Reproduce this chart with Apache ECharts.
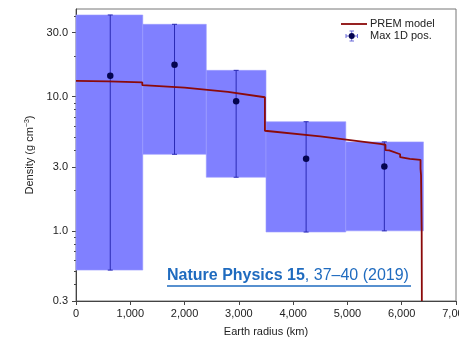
<!DOCTYPE html>
<html>
<head>
<meta charset="utf-8">
<script src="https://cdn.jsdelivr.net/npm/echarts@6/dist/echarts.min.js"></script>
<style>
html,body{margin:0;padding:0;background:#fff;}
#chart{width:459px;height:339px;}
</style>
</head>
<body>
<div id="chart"></div>
<script>
// ---- data ----
const boxRadiusStart = [0, 1230, 2400, 3500, 4970];
const boxRadiusEnd   = [1230, 2400, 3500, 4970, 6400];
const boxDensityLow  = [0.51, 3.72, 2.51, 0.98, 1.0];
const boxDensityHigh = [40.6, 34.6, 15.7, 6.5, 4.6];
const pointRadius  = [631, 1815, 2950, 4239, 5680];
const pointDensity = [14.3, 17.3, 9.24, 3.44, 3.01];
const premRadius  = [0, 600, 1221.5, 1221.5, 2000, 2800, 3480, 3480, 4500, 5600, 5701, 5701, 5771, 5971, 5971, 6151, 6151, 6346.6, 6346.6, 6356, 6356, 6368, 6368, 6371, 6371];
const premDensity = [13.09, 13.01, 12.76, 12.17, 11.66, 10.85, 9.90, 5.57, 5.05, 4.44, 4.38, 3.99, 3.98, 3.72, 3.54, 3.44, 3.36, 3.38, 2.90, 2.90, 2.60, 2.60, 1.02, 1.02, 0.3];
const yTickValues  = [0.3, 1, 3, 10, 30];
const yMinorValues = [0.4, 0.5, 0.6, 0.7, 0.8, 0.9, 2, 4, 5, 6, 7, 8, 9, 20, 40];
const xMin = 0, xMax = 7000, xInterval = 1000;
const yMin = 0.3, yMax = 45;

const FONT = '"Liberation Sans", Arial, sans-serif';
const boxData = boxRadiusStart.map((s, i) => [s, boxRadiusEnd[i], boxDensityLow[i], boxDensityHigh[i]]);
const errData = pointRadius.map((r, i) => [r, boxDensityLow[i], boxDensityHigh[i]]);
const pointData = pointRadius.map((r, i) => [r, pointDensity[i]]);
const premData = premRadius.map((r, i) => [r, premDensity[i]]);

const chart = echarts.init(document.getElementById('chart'), null, {renderer: 'canvas'});
const lg = v => Math.log10(v);

chart.setOption({
  backgroundColor: '#ffffff',
  animation: false,
  grid: {left: 76, right: 3, top: 9, bottom: 38, show: true, borderColor: '#777', borderWidth: 1,
         backgroundColor: 'transparent', containLabel: false, outerBoundsMode: 'none'},
  xAxis: {
    type: 'value', min: xMin, max: xMax, interval: xInterval,
    name: 'Earth radius (km)', nameLocation: 'middle', nameGap: 25,
    nameTextStyle: {fontFamily: FONT, fontSize: 11, color: '#222'},
    axisLine: {show: true, onZero: false, lineStyle: {color: '#444', width: 1}},
    axisTick: {show: true, length: 4, lineStyle: {color: '#444'}},
    axisLabel: {fontFamily: FONT, fontSize: 11, color: '#222', margin: 7,
      formatter: v => v.toLocaleString('en-US')},
    splitLine: {show: false}
  },
  yAxis: [
    {type: 'log', logBase: 10, min: yMin, max: yMax, position: 'left',
     axisLine: {show: true, onZero: false, lineStyle: {color: '#444'}},
     axisTick: {show: false}, axisLabel: {show: false}, splitLine: {show: false}},
    {type: 'value', min: lg(yMin), max: lg(yMax), position: 'left',
     name: 'Density (g cm{sup|−3})', nameLocation: 'middle', nameGap: 38, nameRotate: 90,
     nameTextStyle: {fontFamily: FONT, fontSize: 11, color: '#222',
       rich: {sup: {fontFamily: FONT, fontSize: 7, color: '#222', verticalAlign: 'top', padding: [0, 0, 6, 0]}}},
     axisLine: {show: false, onZero: false},
     axisTick: {show: true, length: 4, lineStyle: {color: '#444'}, customValues: yTickValues.map(lg)},
     axisLabel: {fontFamily: FONT, fontSize: 11, color: '#222', margin: 8, customValues: yTickValues.map(lg),
       formatter: v => Math.pow(10, v).toFixed(1)},
     splitLine: {show: false}},
    {type: 'value', min: lg(yMin), max: lg(yMax), position: 'left',
     axisLine: {show: false, onZero: false},
     axisTick: {show: true, length: 2, lineStyle: {color: '#444'}, customValues: yMinorValues.map(lg)},
     axisLabel: {show: false, customValues: yMinorValues.map(lg)},
     splitLine: {show: false}}
  ],
  series: [
    {
      type: 'custom', name: 'boxes', xAxisIndex: 0, yAxisIndex: 0, z: 1,
      data: boxData, encode: {x: [0, 1], y: [2, 3]},
      renderItem: (params, api) => {
        const p0 = api.coord([api.value(0), api.value(3)]);
        const p1 = api.coord([api.value(1), api.value(2)]);
        return {type: 'rect', shape: {x: p0[0], y: p0[1], width: p1[0] - p0[0], height: p1[1] - p0[1]},
          style: {fill: '#8080ff', stroke: '#9a9aff', lineWidth: 0.6}};
      }
    },
    {
      type: 'custom', name: 'errorbars', xAxisIndex: 0, yAxisIndex: 0, z: 3,
      data: errData, encode: {x: 0, y: [1, 2]},
      renderItem: (params, api) => {
        const lo = api.coord([api.value(0), api.value(1)]);
        const hi = api.coord([api.value(0), api.value(2)]);
        const st = {stroke: '#2a2ab4', lineWidth: 1};
        const c = 2.5;
        return {type: 'group', children: [
          {type: 'line', shape: {x1: hi[0], y1: hi[1], x2: lo[0], y2: lo[1]}, style: st},
          {type: 'line', shape: {x1: hi[0] - c, y1: hi[1], x2: hi[0] + c, y2: hi[1]}, style: st},
          {type: 'line', shape: {x1: lo[0] - c, y1: lo[1], x2: lo[0] + c, y2: lo[1]}, style: st}
        ]};
      }
    },
    {
      type: 'line', name: 'PREM model', xAxisIndex: 0, yAxisIndex: 0, z: 4,
      data: premData, showSymbol: false, symbol: 'none',
      lineStyle: {color: '#8b0a0a', width: 1.8}
    },
    {
      type: 'scatter', name: 'Max 1D pos.', xAxisIndex: 0, yAxisIndex: 0, z: 5,
      data: pointData, symbol: 'circle', symbolSize: 6.5,
      itemStyle: {color: '#050550', opacity: 1}
    }
  ],
  graphic: [
    {type: 'line', shape: {x1: 341, y1: 24, x2: 367, y2: 24}, style: {stroke: '#8b0a0a', lineWidth: 1.8}},
    {type: 'text', x: 370, y: 24, style: {text: 'PREM model', font: '11px ' + FONT, fill: '#222', verticalAlign: 'middle'}},
    {type: 'line', shape: {x1: 346, y1: 36, x2: 357.5, y2: 36}, style: {stroke: '#6a6ad8', lineWidth: 1}},
    {type: 'line', shape: {x1: 351.7, y1: 31, x2: 351.7, y2: 41}, style: {stroke: '#6a6ad8', lineWidth: 1}},
    {type: 'line', shape: {x1: 346, y1: 34, x2: 346, y2: 38}, style: {stroke: '#6a6ad8', lineWidth: 1}},
    {type: 'line', shape: {x1: 357.5, y1: 34, x2: 357.5, y2: 38}, style: {stroke: '#6a6ad8', lineWidth: 1}},
    {type: 'line', shape: {x1: 349.5, y1: 31, x2: 354, y2: 31}, style: {stroke: '#6a6ad8', lineWidth: 1}},
    {type: 'line', shape: {x1: 349.5, y1: 41, x2: 354, y2: 41}, style: {stroke: '#6a6ad8', lineWidth: 1}},
    {type: 'circle', shape: {cx: 351.7, cy: 36, r: 3}, style: {fill: '#050550'}},
    {type: 'text', x: 370, y: 36, style: {text: 'Max 1D pos.', font: '11px ' + FONT, fill: '#222', verticalAlign: 'middle'}},
    {type: 'text', x: 167, y: 276, style: {
      text: '{b|Nature Physics 15}, 37–40 (2019)',
      font: '16px ' + FONT, fill: '#1f6bbf', verticalAlign: 'middle',
      rich: {b: {fontWeight: 'bold', fontSize: 16, fontFamily: FONT, fill: '#1f6bbf', color: '#1f6bbf'}}
    }},
    {type: 'line', shape: {x1: 167, y1: 286, x2: 411, y2: 286}, style: {stroke: '#1f6bbf', lineWidth: 1.3}}
  ]
});
</script>
</body>
</html>
